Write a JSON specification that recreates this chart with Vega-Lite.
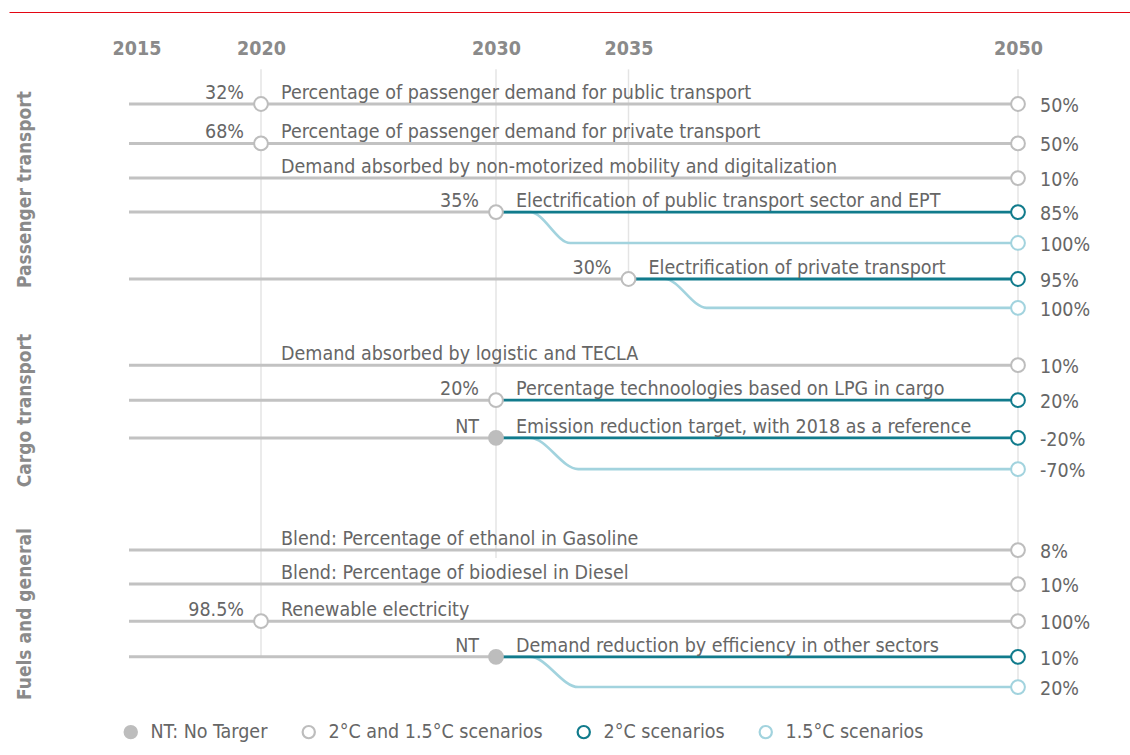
{
  "$schema": "https://vega.github.io/schema/vega-lite/v6.json",
  "width": 1121,
  "height": 755,
  "autosize": "none",
  "padding": {"left": 9, "top": 0, "right": 0, "bottom": 0},
  "background": "white",
  "config": {
    "view": {"stroke": null},
    "font": "Liberation Sans Narrow, DejaVu Sans Condensed, sans-serif"
  },
  "datasets": {
    "grid": [
      {"year": 2020, "r": -0.98, "r2": 16.14},
      {"year": 2030, "r": -0.98, "r2": 13.26},
      {"year": 2035, "r": -0.98, "r2": 5.13},
      {"year": 2050, "r": -0.98, "r2": 17.02}
    ],
    "segs": [
      {"id": "L1", "series": "base", "year": 2014.7, "r": 0.03},
      {"id": "L1", "series": "base", "year": 2050, "r": 0.03},
      {"id": "L2", "series": "base", "year": 2014.7, "r": 1.18},
      {"id": "L2", "series": "base", "year": 2050, "r": 1.18},
      {"id": "L3", "series": "base", "year": 2014.7, "r": 2.19},
      {"id": "L3", "series": "base", "year": 2050, "r": 2.19},
      {"id": "L4", "series": "base", "year": 2014.7, "r": 3.18},
      {"id": "L4", "series": "base", "year": 2030, "r": 3.18},
      {"id": "L5", "series": "base", "year": 2014.7, "r": 5.13},
      {"id": "L5", "series": "base", "year": 2035, "r": 5.13},
      {"id": "L6", "series": "base", "year": 2014.7, "r": 7.64},
      {"id": "L6", "series": "base", "year": 2050, "r": 7.64},
      {"id": "L7", "series": "base", "year": 2014.7, "r": 8.66},
      {"id": "L7", "series": "base", "year": 2030, "r": 8.66},
      {"id": "L8", "series": "base", "year": 2014.7, "r": 9.76},
      {"id": "L8", "series": "base", "year": 2030, "r": 9.76},
      {"id": "L9", "series": "base", "year": 2014.7, "r": 13.03},
      {"id": "L9", "series": "base", "year": 2050, "r": 13.03},
      {"id": "L10", "series": "base", "year": 2014.7, "r": 14.02},
      {"id": "L10", "series": "base", "year": 2050, "r": 14.02},
      {"id": "L11", "series": "base", "year": 2014.7, "r": 15.1},
      {"id": "L11", "series": "base", "year": 2050, "r": 15.1},
      {"id": "L12", "series": "base", "year": 2014.7, "r": 16.14},
      {"id": "L12", "series": "base", "year": 2030, "r": 16.14},
      {"id": "L4", "series": "2C", "year": 2030, "r": 3.18},
      {"id": "L4", "series": "2C", "year": 2050, "r": 3.18},
      {"id": "L5", "series": "2C", "year": 2035, "r": 5.13},
      {"id": "L5", "series": "2C", "year": 2050, "r": 5.13},
      {"id": "L7", "series": "2C", "year": 2030, "r": 8.66},
      {"id": "L7", "series": "2C", "year": 2050, "r": 8.66},
      {"id": "L8", "series": "2C", "year": 2030, "r": 9.76},
      {"id": "L8", "series": "2C", "year": 2050, "r": 9.76},
      {"id": "L12", "series": "2C", "year": 2030, "r": 16.14},
      {"id": "L12", "series": "2C", "year": 2050, "r": 16.14},
      {"id": "L4", "series": "1.5C", "year": 2030, "r": 3.18},
      {"id": "L4", "series": "1.5C", "year": 2031.3, "r": 3.18},
      {"id": "L4", "series": "1.5C", "year": 2032.8, "r": 4.08},
      {"id": "L4", "series": "1.5C", "year": 2050, "r": 4.08},
      {"id": "L5", "series": "1.5C", "year": 2035, "r": 5.13},
      {"id": "L5", "series": "1.5C", "year": 2036.4, "r": 5.13},
      {"id": "L5", "series": "1.5C", "year": 2038.0, "r": 5.97},
      {"id": "L5", "series": "1.5C", "year": 2050, "r": 5.97},
      {"id": "L8", "series": "1.5C", "year": 2030, "r": 9.76},
      {"id": "L8", "series": "1.5C", "year": 2031.3, "r": 9.76},
      {"id": "L8", "series": "1.5C", "year": 2033.1, "r": 10.67},
      {"id": "L8", "series": "1.5C", "year": 2050, "r": 10.67},
      {"id": "L12", "series": "1.5C", "year": 2030, "r": 16.14},
      {"id": "L12", "series": "1.5C", "year": 2031.3, "r": 16.14},
      {"id": "L12", "series": "1.5C", "year": 2033.1, "r": 17.02},
      {"id": "L12", "series": "1.5C", "year": 2050, "r": 17.02}
    ],
    "pts": [
      {"year": 2020, "r": 0.03, "type": "2°C and 1.5°C scenarios"},
      {"year": 2050, "r": 0.03, "type": "2°C and 1.5°C scenarios"},
      {"year": 2020, "r": 1.18, "type": "2°C and 1.5°C scenarios"},
      {"year": 2050, "r": 1.18, "type": "2°C and 1.5°C scenarios"},
      {"year": 2050, "r": 2.19, "type": "2°C and 1.5°C scenarios"},
      {"year": 2030, "r": 3.18, "type": "2°C and 1.5°C scenarios"},
      {"year": 2050, "r": 3.18, "type": "2°C scenarios"},
      {"year": 2050, "r": 4.08, "type": "1.5°C scenarios"},
      {"year": 2035, "r": 5.13, "type": "2°C and 1.5°C scenarios"},
      {"year": 2050, "r": 5.13, "type": "2°C scenarios"},
      {"year": 2050, "r": 5.97, "type": "1.5°C scenarios"},
      {"year": 2050, "r": 7.64, "type": "2°C and 1.5°C scenarios"},
      {"year": 2030, "r": 8.66, "type": "2°C and 1.5°C scenarios"},
      {"year": 2050, "r": 8.66, "type": "2°C scenarios"},
      {"year": 2030, "r": 9.76, "type": "NT: No Targer"},
      {"year": 2050, "r": 9.76, "type": "2°C scenarios"},
      {"year": 2050, "r": 10.67, "type": "1.5°C scenarios"},
      {"year": 2050, "r": 13.03, "type": "2°C and 1.5°C scenarios"},
      {"year": 2050, "r": 14.02, "type": "2°C and 1.5°C scenarios"},
      {"year": 2020, "r": 15.1, "type": "2°C and 1.5°C scenarios"},
      {"year": 2050, "r": 15.1, "type": "2°C and 1.5°C scenarios"},
      {"year": 2030, "r": 16.14, "type": "NT: No Targer"},
      {"year": 2050, "r": 16.14, "type": "2°C scenarios"},
      {"year": 2050, "r": 17.02, "type": "1.5°C scenarios"}
    ],
    "labels": [
      {"kind": "desc", "year": 2020, "r": 0.03, "text": "Percentage of passenger demand for public transport"},
      {"kind": "desc", "year": 2020, "r": 1.18, "text": "Percentage of passenger demand for private transport"},
      {"kind": "desc", "year": 2020, "r": 2.19, "text": "Demand absorbed by non-motorized mobility and digitalization"},
      {"kind": "desc", "year": 2030, "r": 3.18, "text": "Electrification of public transport sector and EPT"},
      {"kind": "desc", "year": 2035, "r": 5.13, "text": "Electrification of private transport"},
      {"kind": "desc", "year": 2020, "r": 7.64, "text": "Demand absorbed by logistic and TECLA"},
      {"kind": "desc", "year": 2030, "r": 8.66, "text": "Percentage technoologies based on LPG in cargo"},
      {"kind": "desc", "year": 2030, "r": 9.76, "text": "Emission reduction target, with 2018 as a reference"},
      {"kind": "desc", "year": 2020, "r": 13.03, "text": "Blend: Percentage of ethanol in Gasoline"},
      {"kind": "desc", "year": 2020, "r": 14.02, "text": "Blend: Percentage of biodiesel in Diesel"},
      {"kind": "desc", "year": 2020, "r": 15.1, "text": "Renewable electricity"},
      {"kind": "desc", "year": 2030, "r": 16.14, "text": "Demand reduction by efficiency in other sectors"},
      {"kind": "start", "year": 2020, "r": 0.03, "text": "32%"},
      {"kind": "start", "year": 2020, "r": 1.18, "text": "68%"},
      {"kind": "start", "year": 2030, "r": 3.18, "text": "35%"},
      {"kind": "start", "year": 2035, "r": 5.13, "text": "30%"},
      {"kind": "start", "year": 2030, "r": 8.66, "text": "20%"},
      {"kind": "start", "year": 2030, "r": 9.76, "text": "NT"},
      {"kind": "start", "year": 2020, "r": 15.1, "text": "98.5%"},
      {"kind": "start", "year": 2030, "r": 16.14, "text": "NT"},
      {"kind": "end", "year": 2050, "r": 0.03, "text": "50%"},
      {"kind": "end", "year": 2050, "r": 1.18, "text": "50%"},
      {"kind": "end", "year": 2050, "r": 2.19, "text": "10%"},
      {"kind": "end", "year": 2050, "r": 3.18, "text": "85%"},
      {"kind": "end", "year": 2050, "r": 4.08, "text": "100%"},
      {"kind": "end", "year": 2050, "r": 5.13, "text": "95%"},
      {"kind": "end", "year": 2050, "r": 5.97, "text": "100%"},
      {"kind": "end", "year": 2050, "r": 7.64, "text": "10%"},
      {"kind": "end", "year": 2050, "r": 8.66, "text": "20%"},
      {"kind": "end", "year": 2050, "r": 9.76, "text": "-20%"},
      {"kind": "end", "year": 2050, "r": 10.67, "text": "-70%"},
      {"kind": "end", "year": 2050, "r": 13.03, "text": "8%"},
      {"kind": "end", "year": 2050, "r": 14.02, "text": "10%"},
      {"kind": "end", "year": 2050, "r": 15.1, "text": "100%"},
      {"kind": "end", "year": 2050, "r": 16.14, "text": "10%"},
      {"kind": "end", "year": 2050, "r": 17.02, "text": "20%"}
    ]
  },
  "encoding": {
    "x": {
      "field": "year",
      "type": "quantitative",
      "scale": {"type": "linear", "domain": [2009.88, 2014.7, 2020, 2030, 2035, 2050, 2054.3], "range": [0, 120, 252, 487, 619.5, 1009, 1121], "zero": false, "nice": false},
      "axis": {
        "orient": "top",
        "values": [2015, 2020, 2030, 2035, 2050],
        "format": "d",
        "title": null,
        "grid": false,
        "ticks": false,
        "tickSize": 0,
        "offset": -12,
        "domain": true,
        "domainColor": "#e30613",
        "domainWidth": 1.2,
        "labelPadding": -46,
        "labelFontSize": 19.5,
        "labelFontWeight": "bold",
        "labelColor": "#8a8a8a",
        "labelFlush": false,
        "labelOverlap": false
      }
    },
    "y": {
      "field": "r",
      "type": "quantitative",
      "scale": {"domain": [-3, 19], "range": [0, 755], "zero": false, "nice": false},
      "axis": {
        "orient": "left",
        "values": [2.51, 8.95, 14.88],
        "labelExpr": "datum.value < 5 ? 'Passenger transport' : (datum.value < 12 ? 'Cargo transport' : 'Fuels and general')",
        "title": null,
        "grid": false,
        "ticks": false,
        "tickSize": 0,
        "domain": false,
        "labelAngle": -90,
        "labelAlign": "center",
        "labelBaseline": "middle",
        "labelPadding": -15,
        "labelFontSize": 19,
        "labelFontWeight": "bold",
        "labelColor": "#8a8a8a",
        "labelLimit": 0,
        "labelOverlap": false,
        "labelFlush": false
      }
    }
  },
  "layer": [
    {
      "data": {"name": "grid"},
      "mark": {"type": "rule", "color": "#e4e4e4", "strokeWidth": 1.5},
      "encoding": {"y2": {"field": "r2"}}
    },
    {
      "data": {"name": "segs"},
      "transform": [{"filter": "datum.series == 'base'"}],
      "mark": {"type": "line", "color": "#c2c2c2", "strokeWidth": 3},
      "encoding": {"detail": {"field": "id"}}
    },
    {
      "data": {"name": "segs"},
      "transform": [{"filter": "datum.series == '1.5C'"}],
      "mark": {"type": "line", "color": "#a2d3de", "strokeWidth": 2.6, "interpolate": "monotone"},
      "encoding": {"detail": {"field": "id"}}
    },
    {
      "data": {"name": "segs"},
      "transform": [{"filter": "datum.series == '2C'"}],
      "mark": {"type": "line", "color": "#117b8c", "strokeWidth": 2.8},
      "encoding": {"detail": {"field": "id"}}
    },
    {
      "data": {"name": "pts"},
      "mark": {"type": "point", "shape": "circle", "size": 190, "strokeWidth": 2, "opacity": 1, "fillOpacity": 1},
      "encoding": {
        "fill": {
          "field": "type",
          "type": "nominal",
          "scale": {"domain": ["NT: No Targer", "2°C and 1.5°C scenarios", "2°C scenarios", "1.5°C scenarios"], "range": ["#bdbdbd", "#ffffff", "#ffffff", "#ffffff"]},
          "legend": {
            "title": null,
            "orient": "none",
            "direction": "horizontal",
            "legendX": 112,
            "legendY": 722,
            "padding": 0,
            "symbolType": "circle",
            "symbolSize": 150,
            "symbolStrokeWidth": 2.2,
            "labelFontSize": 19.5,
            "labelColor": "#666666",
            "labelOffset": 10,
            "labelLimit": 500,
            "columnPadding": 30
          }
        },
        "stroke": {
          "field": "type",
          "type": "nominal",
          "scale": {"domain": ["NT: No Targer", "2°C and 1.5°C scenarios", "2°C scenarios", "1.5°C scenarios"], "range": ["#bdbdbd", "#bdbdbd", "#117b8c", "#a2d3de"]},
          "legend": {
            "title": null,
            "orient": "none",
            "direction": "horizontal",
            "legendX": 112,
            "legendY": 722,
            "padding": 0,
            "symbolType": "circle",
            "symbolSize": 150,
            "symbolStrokeWidth": 2.2,
            "labelFontSize": 19.5,
            "labelColor": "#666666",
            "labelOffset": 10,
            "labelLimit": 500,
            "columnPadding": 30
          }
        }
      }
    },
    {
      "data": {"name": "labels"},
      "transform": [{"filter": "datum.kind == 'desc'"}],
      "mark": {"type": "text", "align": "left", "baseline": "alphabetic", "dx": 20, "dy": -5, "fontSize": 19.5, "color": "#666666"},
      "encoding": {"text": {"field": "text"}}
    },
    {
      "data": {"name": "labels"},
      "transform": [{"filter": "datum.kind == 'start'"}],
      "mark": {"type": "text", "align": "right", "baseline": "alphabetic", "dx": -17, "dy": -5, "fontSize": 19.5, "color": "#666666"},
      "encoding": {"text": {"field": "text"}}
    },
    {
      "data": {"name": "labels"},
      "transform": [{"filter": "datum.kind == 'end'"}],
      "mark": {"type": "text", "align": "left", "baseline": "middle", "dx": 22, "dy": 2, "fontSize": 19.5, "color": "#666666"},
      "encoding": {"text": {"field": "text"}}
    }
  ]
}
